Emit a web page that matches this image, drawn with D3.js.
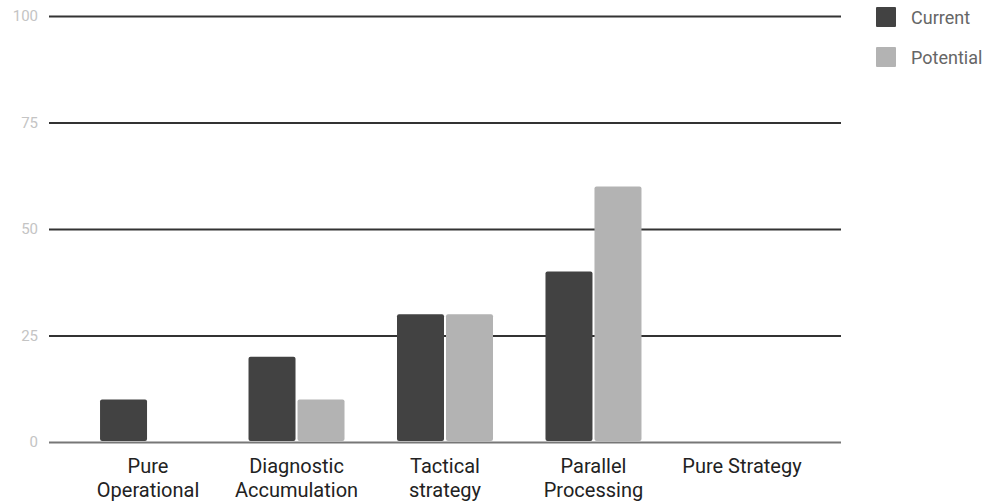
<!DOCTYPE html>
<html>
<head>
<meta charset="utf-8">
<script src="https://cdn.jsdelivr.net/npm/d3@7"></script>
<style>
  html, body { margin: 0; padding: 0; background: #fff; }
  svg { display: block; font-family: Roboto, "Noto Sans", sans-serif; }
</style>
</head>
<body>
<svg id="chart" width="989" height="504"></svg>
<script>
// Chart data
const categories = [
  ["Pure", "Operational"],
  ["Diagnostic", "Accumulation"],
  ["Tactical", "strategy"],
  ["Parallel", "Processing"],
  ["Pure Strategy"]
];
const seriesNames = ["Current", "Potential"];
const currentValues = [10, 20, 30, 40, 0];
const potentialValues = [0, 10, 30, 60, 0];
const yTicks = [0, 25, 50, 75, 100];
const seriesColors = ["#424242", "#b3b3b3"];

const svg = d3.select("#chart");
const plot = { left: 49, right: 841, top: 16, bottom: 442 };

const x = d3.scalePoint()
  .domain(d3.range(categories.length))
  .range([plot.left, plot.right])
  .padding(0.667);

const barW = 47, barGap = 2;
const xSub = d3.scaleOrdinal()
  .domain(seriesNames)
  .range([-(barW + barGap / 2), barGap / 2]);

const y = d3.scaleLinear().domain([0, 100]).range([plot.bottom, plot.top]);

// Gridlines and y tick labels
const yAxis = d3.axisLeft(y).tickValues(yTicks).tickSize(-(plot.right - plot.left)).tickPadding(11);
const gy = svg.append("g")
  .attr("transform", `translate(${plot.left},0)`)
  .call(yAxis);
gy.select(".domain").remove();
gy.selectAll(".tick line")
  .attr("stroke", d => d === 0 ? "#777" : "#333")
  .attr("stroke-width", 2);
gy.selectAll(".tick text")
  .attr("fill", "#c4c4c4")
  .attr("font-size", 15)
  .attr("font-family", "Roboto, sans-serif");

// Bars
const rows = categories.map((c, i) => ({ i, values: [currentValues[i], potentialValues[i]] }));
const groups = svg.append("g").selectAll("g")
  .data(rows).join("g")
  .attr("transform", d => `translate(${x(d.i)},0)`);

groups.selectAll("rect")
  .data(d => d.values.map((v, k) => ({ name: seriesNames[k], value: v, k })).filter(e => e.value > 0))
  .join("rect")
  .attr("x", d => xSub(d.name))
  .attr("y", d => y(d.value))
  .attr("width", barW)
  .attr("height", d => y(0) - y(d.value) - 1)
  .attr("rx", 2)
  .attr("fill", d => seriesColors[d.k]);

// Category labels
const labels = svg.append("g").selectAll("text")
  .data(categories).join("text")
  .attr("x", (d, i) => x(i))
  .attr("y", 473)
  .attr("text-anchor", "middle")
  .attr("font-size", 20)
  .attr("fill", "#222");
labels.selectAll("tspan")
  .data(d => d).join("tspan")
  .attr("x", function () { return d3.select(this.parentNode).attr("x"); })
  .attr("dy", (d, j) => j === 0 ? 0 : 24)
  .text(d => d);

// Legend
const legend = svg.append("g").selectAll("g")
  .data(seriesNames).join("g")
  .attr("transform", (d, i) => `translate(876,${7 + i * 40})`);
legend.append("rect")
  .attr("width", 20).attr("height", 20).attr("rx", 1)
  .attr("fill", (d, i) => seriesColors[i]);
legend.append("text")
  .attr("x", 35).attr("y", 17)
  .attr("font-size", 18)
  .attr("fill", "#666")
  .text(d => d);
</script>
</body>
</html>
